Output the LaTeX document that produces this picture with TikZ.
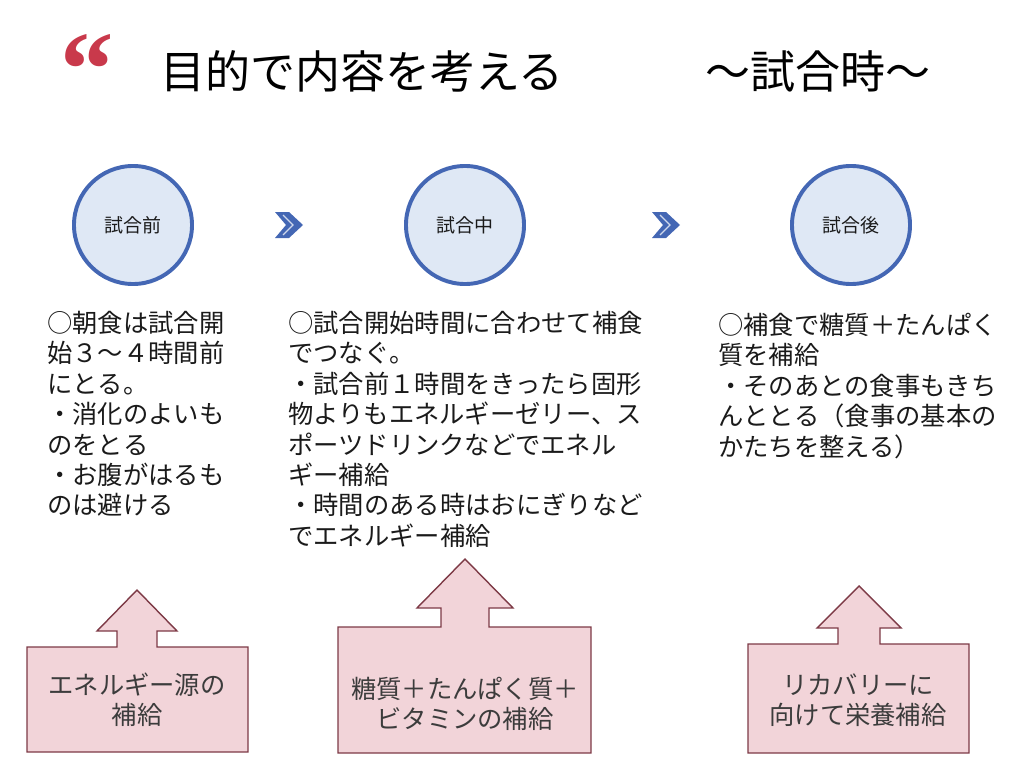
\documentclass[tikz,border=0pt]{standalone}
\usepackage{fontspec}
\setmainfont{Noto Sans CJK JP}
\newfontfamily\quotefont{Liberation Serif}
\usetikzlibrary{positioning}
\definecolor{stageblue}{HTML}{4467B4}
\definecolor{stagefill}{HTML}{DFE8F5}
\definecolor{notefill}{HTML}{F2D4D9}
\definecolor{noteline}{HTML}{7D3A46}
\definecolor{quotered}{HTML}{C9394B}
\definecolor{inktext}{HTML}{1A1A1A}
\tikzset{
	stage/.style={circle, draw=stageblue, line width=2.8pt, fill=stagefill, minimum size=2.95cm, inner sep=0pt, text=inktext, font=\fontsize{13.5}{16}\selectfont},
	memo/.style={anchor=north west, align=left, inner sep=0pt, text=inktext, font=\fontsize{18}{21.6}\selectfont},
	callout/.style={draw=noteline, line width=1pt, fill=notefill, line join=miter},
	callnote/.style={align=center, inner sep=0pt, text=inktext!85, font=\fontsize{18}{21.6}\selectfont},
	chev/.style={fill=stageblue, draw=none},
	headline/.style={anchor=base west, inner sep=0pt, text=black, font=\fontsize{32}{36}\selectfont}
}
% left,top,right,bottom ; tip x,tip y,head base y,head half,shaft half
\def\upcallout(#1,#2,#3,#4)(#5,#6,#7,#8,#9){\draw[callout] (#1,#2) -- ({#5-#9},#2) -- ({#5-#9},#7) -- ({#5-#8},#7) -- (#5,#6) -- ({#5+#8},#7) -- ({#5+#9},#7) -- ({#5+#9},#2) -- (#3,#2) -- (#3,#4) -- (#1,#4) -- cycle;}
\def\chevron(#1,#2){\fill[chev, shift={(#1,#2)}] (-14,-13) -- (0,-13) -- (14,0) -- (0,13) -- (-14,13) -- (-3,0) -- cycle;
	\draw[white!75!stageblue, line width=0.8pt, shift={(#1,#2)}] (-6,-10) -- (4,0) -- (-6,10);}

\begin{document}
\begin{tikzpicture}[x=0.025cm, y=-0.025cm]
	%%%%% START %%%%%
	\useasboundingbox (0,0) rectangle (1024,768);
	
	\node[text=quotered, inner sep=0pt, font=\quotefont\bfseries\fontsize{76}{76}\selectfont] (quote) at (87,70) {“};
	\node[headline] (title) at (160,89) {目的で内容を考える};
	\node[headline] (subtitle) at (705,89) {～試合時～};
	
	\node[stage] (before) at (133,225) {試合前};
	\node[stage] (during) at (465,225) {試合中};
	\node[stage] (after) at (851,225) {試合後};
	
	\chevron(289,225)
	\chevron(666,225)
	
	\node[memo] (beforememo) at (47,311) {○朝食は試合開\\始３～４時間前\\にとる。\\・消化のよいも\\のをとる\\・お腹がはるも\\のは避ける};
	\node[memo] (duringmemo) at (288,311) {○試合開始時間に合わせて補食\\でつなぐ。\\・試合前１時間をきったら固形\\物よりもエネルギーゼリー、ス\\ポーツドリンクなどでエネル\\ギー補給\\・時間のある時はおにぎりなど\\でエネルギー補給};
	\node[memo] (aftermemo) at (718,313) {○補食で糖質＋たんぱく\\質を補給\\・そのあとの食事もきち\\んととる（食事の基本の\\かたちを整える）};
	
	\upcallout(27,647,248,752)(137,590,631,40,20)
	\upcallout(338,627,591,753)(465,559,608,48,24)
	\upcallout(748,644,969,753)(859,586,628,42,21)
	
	\node[callnote] (beforenote) at (137,700) {エネルギー源の\\補給};
	\node[callnote] (duringnote) at (465,704) {糖質＋たんぱく質＋\\ビタミンの補給};
	\node[callnote] (afternote) at (858,700) {リカバリーに\\向けて栄養補給};
	
	%%%%% END %%%%%
\end{tikzpicture}
\end{document}
